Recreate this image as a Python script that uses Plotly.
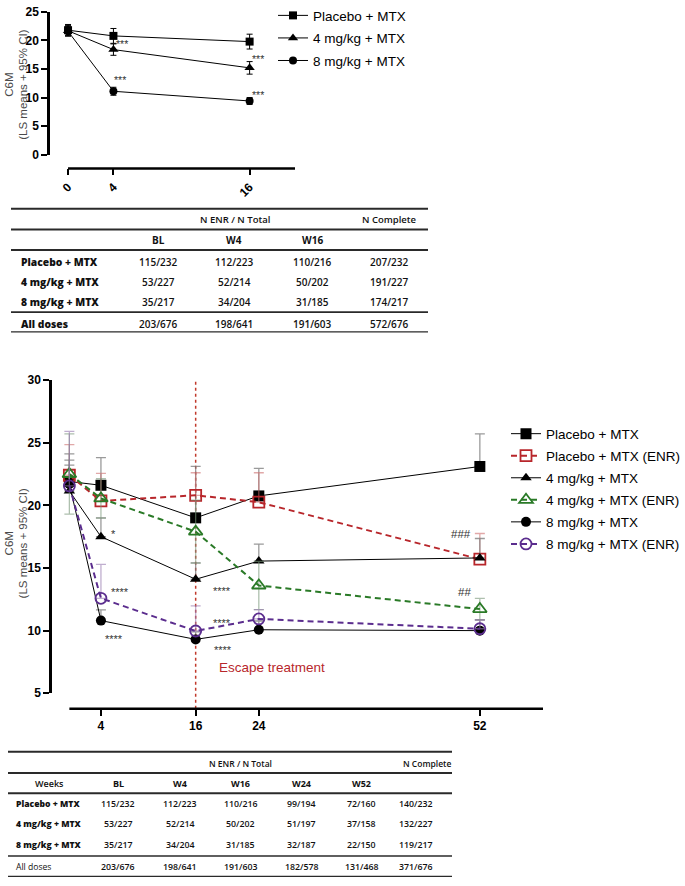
import plotly.graph_objects as go

W, H = 685, 886

def px(x):
    return x / W

def py(y):
    return 1 - y / H

# ---------------- DATA ----------------
# Top chart
top_weeks = [0, 4, 16]
top_tick_text = ["0", "4", "16"]
top_names = ["Placebo + MTX", "4 mg/kg + MTX", "8 mg/kg + MTX"]
top_placebo = [21.8, 20.8, 19.8]
top_placebo_err = [1.0, 1.3, 1.3]
top_4mg = [21.7, 18.4, 15.2]
top_4mg_err = [0.9, 1.0, 1.1]
top_8mg = [21.6, 11.1, 9.4]
top_8mg_err = [0.8, 0.7, 0.6]
top_star_text = ["***", "***", "***", "***"]
top_star_week = [4.75, 4.55, 16.7, 16.7]
top_star_val = [19.95, 13.6, 17.35, 11.0]

# Bottom chart
bot_weeks = [0, 4, 16, 24, 52]
bot_tick_vals = [4, 16, 24, 52]
bot_tick_text = ["4", "16", "24", "52"]
bot_names = ["Placebo + MTX", "Placebo + MTX (ENR)", "4 mg/kg + MTX",
             "4 mg/kg + MTX (ENR)", "8 mg/kg + MTX", "8 mg/kg + MTX (ENR)"]
placebo = [21.9, 21.6, 19.0, 20.75, 23.1]
placebo_err = [2.2, 2.2, 4.1, 2.2, 2.6]
placebo_enr = [22.4, 20.35, 20.8, 20.25, 15.7]
placebo_enr_err = [2.45, 2.2, 1.8, 2.35, 2.05]
mg4 = [21.15, 17.5, 14.1, 15.55, 15.8]
mg4_err = [2.45, 1.5, 1.3, 1.35, 1.55]
mg4_enr = [22.5, 20.55, 17.9, 13.6, 11.72]
mg4_enr_err = [3.2, 1.57, 2.52, 1.93, 0.85]
mg8 = [21.7, 10.8, 9.3, 10.07, 10.0]
mg8_err = [1.5, 0.85, 0.6, 0.7, 0.85]
mg8_enr = [21.55, 12.58, 9.97, 10.93, 10.15]
mg8_enr_err = [4.35, 2.7, 2.0, 0.75, 0.7]
escape_week = 16
escape_text = "Escape treatment"
bot_star_text = ["*", "****", "****", "****", "****", "****", "###", "##"]
bot_star_week = [5.55, 6.4, 5.6, 19.3, 19.3, 19.5, 49.6, 50.1]
bot_star_val = [17.96, 13.35, 9.55, 13.42, 10.86, 8.66, 17.75, 13.1]

# Tables
t1_rows = ["Placebo + MTX", "4 mg/kg + MTX", "8 mg/kg + MTX", "All doses"]
t1_cols = ["BL", "W4", "W16"]
t1_bl = ["115/232", "53/227", "35/217", "203/676"]
t1_w4 = ["112/223", "52/214", "34/204", "198/641"]
t1_w16 = ["110/216", "50/202", "31/185", "191/603"]
t1_complete = ["207/232", "191/227", "174/217", "572/676"]

t2_rows = ["Placebo + MTX", "4 mg/kg + MTX", "8 mg/kg + MTX", "All doses"]
t2_cols = ["BL", "W4", "W16", "W24", "W52"]
t2_bl = ["115/232", "53/227", "35/217", "203/676"]
t2_w4 = ["112/223", "52/214", "34/204", "198/641"]
t2_w16 = ["110/216", "50/202", "31/185", "191/603"]
t2_w24 = ["99/194", "51/197", "32/187", "182/578"]
t2_w52 = ["72/160", "37/158", "22/150", "131/468"]
t2_complete = ["140/232", "132/227", "119/217", "371/676"]
header_mid = "N ENR / N Total"
header_right = "N Complete"
weeks_label = "Weeks"
y_title1 = "C6M"
y_title2 = "(LS means + 95% CI)"

# ---------------- FIGURE ----------------
ARIAL = "Liberation Sans, Arial, sans-serif"
TFONT = "Open Sans, Lato, sans-serif"
fig = go.Figure()

# top chart traces
top_syms = ["square", "triangle-up", "circle"]
for name, vals, errs, sym in zip(top_names, [top_placebo, top_4mg, top_8mg],
                                 [top_placebo_err, top_4mg_err, top_8mg_err], top_syms):
    fig.add_trace(go.Scatter(
        x=top_weeks, y=vals, name=name, mode="lines+markers",
        xaxis="x", yaxis="y", legend="legend", legendgroup="t" + name,
        line=dict(color="black", width=1),
        marker=dict(symbol=sym, size=8 if sym != "triangle-up" else 9, color="black"),
        error_y=dict(type="data", array=errs, visible=True, color="black",
                     thickness=1, width=3),
        cliponaxis=False,
    ))

# bottom chart traces
RED = "#b8262b"
GREEN = "#2a7a27"
PURPLE = "#5b2d8e"
bot_specs = [
    (placebo, placebo_err, "black", "solid", "square", 11, "rgba(120,120,120,0.75)", False),
    (placebo_enr, placebo_enr_err, RED, "6px,4px", "square-open", 11, "rgba(205,110,110,0.6)", False),
    (mg4, mg4_err, "black", "solid", "triangle-up", 10, "rgba(120,120,120,0.75)", False),
    (mg4_enr, mg4_enr_err, GREEN, "6px,4px", "triangle-up-open", 12, "rgba(120,150,120,0.6)", True),
    (mg8, mg8_err, "black", "solid", "circle", 10, "rgba(120,120,120,0.75)", False),
    (mg8_enr, mg8_enr_err, PURPLE, "6px,4px", "circle-open", 11, "rgba(150,120,175,0.6)", False),
]
for name, (vals, errs, col, dash, sym, size, ecol, sym_err) in zip(bot_names, bot_specs):
    open_m = sym.endswith("open")
    fig.add_trace(go.Scatter(
        x=bot_weeks, y=vals, name=name, mode="lines+markers",
        xaxis="x2", yaxis="y2", legend="legend2", legendgroup="b" + name,
        line=dict(color=col, width=1 if dash == "solid" else 2, dash=dash),
        marker=dict(symbol=sym, size=size, color=col,
                    line=dict(width=1.8 if open_m else 0, color=col)),
        error_y=dict(type="data", array=errs, symmetric=sym_err,
                     arrayminus=errs if sym_err else [0] * len(errs),
                     visible=True, color=ecol, thickness=1.3, width=5),
        cliponaxis=False,
    ))

shapes = []
annotations = []

# axis lines (offset x-axes)
shapes.append(dict(type="line", xref="x", yref="paper", x0=0, x1=20,
                   y0=py(164), y1=py(164), line=dict(color="black", width=2.5)))
shapes.append(dict(type="line", xref="x2", yref="paper", x0=0, x1=60,
                   y0=py(713), y1=py(713), line=dict(color="black", width=2.5)))
# escape treatment dotted line
shapes.append(dict(type="line", xref="x2", yref="paper", x0=escape_week, x1=escape_week,
                   y0=py(713), y1=py(379), line=dict(color="#c0392b", width=1.5, dash="dot"),
                   layer="below"))
annotations.append(dict(text=escape_text, xref="paper", yref="paper", x=px(217), y=py(671),
                        xanchor="left", yanchor="middle", showarrow=False,
                        font=dict(family=ARIAL, size=13.5, color="#b8262b")))

# y titles
for (cx, cy, txt_) in [(9, 79, y_title1), (23, 79, y_title2), (9, 545, y_title1), (23, 545, y_title2)]:
    annotations.append(dict(text=txt_, xref="paper", yref="paper", x=px(cx), y=py(cy),
                            textangle=-90, showarrow=False, xanchor="center", yanchor="middle",
                            font=dict(family=ARIAL, size=11.5, color="#4a4a4a")))

# stars
for t, wk, v in zip(top_star_text, top_star_week, top_star_val):
    annotations.append(dict(text=t, xref="x", yref="y", x=wk, y=v, showarrow=False,
                            yshift=-3, font=dict(family=ARIAL, size=10.5, color="#333333")))
for t, wk, v in zip(bot_star_text, bot_star_week, bot_star_val):
    star = t.startswith("*")
    annotations.append(dict(text=t, xref="x2", yref="y2", x=wk, y=v, showarrow=False,
                            yshift=-3 if star else 0,
                            font=dict(family=ARIAL, size=11 if star else 11.5, color="#333333")))

# ---------------- TABLES ----------------
def hline(x0, x1, y, w):
    shapes.append(dict(type="line", xref="paper", yref="paper", x0=px(x0), x1=px(x1),
                       y0=py(y), y1=py(y), line=dict(color="#2a2a2a", width=w)))

def txt(s, x, y, size, weight=600, anchor="center"):
    annotations.append(dict(text=s, xref="paper", yref="paper", x=px(x), y=py(y),
                            xanchor=anchor, yanchor="middle", showarrow=False,
                            font=dict(family=TFONT, size=size, color="#111111", weight=weight)))

# table 1
for y, w in [(205, 2.2), (226, 2), (247, 2), (310, 1.6), (330, 1.2)]:
    hline(11, 428, y, w)
txt(header_mid, 235, 216, 9.5, 600)
txt(header_right, 389, 216, 9.5, 600)
for c, x in zip(t1_cols, [158, 234, 312]):
    txt(c, x, 237, 10, 700)
row_y1 = [259, 279, 300, 322]
for i, r in enumerate(t1_rows):
    txt(r, 19, row_y1[i], 10.3, 800, "left")
    for col, x in zip([t1_bl, t1_w4, t1_w16, t1_complete], [158, 234, 312, 389]):
        txt(col[i], x, row_y1[i], 10, 600)

# table 2
for y, w in [(756.7, 2.2), (778.3, 2), (799, 2), (862.7, 1.6), (883.3, 1.2)]:
    hline(8, 452, y, w)
txt(header_mid, 240.7, 768.3, 8.5, 600)
txt(header_right, 426.7, 768.3, 8.5, 600)
txt(weeks_label, 50, 789.3, 9, 600)
for c, x in zip(t2_cols, [118.3, 180, 240.7, 301.7, 361.7]):
    txt(c, x, 789.3, 9, 700)
row_y2 = [810, 830, 851.7, 873.3]
for i, r in enumerate(t2_rows):
    txt(r, 14, row_y2[i], 8.6, 800 if i < 3 else 500, "left")
    for col, x in zip([t2_bl, t2_w4, t2_w16, t2_w24, t2_w52, t2_complete],
                      [118.3, 180, 240.7, 301.7, 361.7, 415.7]):
        txt(col[i], x, row_y2[i], 8.8, 600)

tickfont = dict(family=ARIAL, size=12, color="black", weight="bold")
fig.update_layout(
    width=W, height=H, autosize=False,
    margin=dict(l=0, r=0, t=0, b=0),
    paper_bgcolor="white", plot_bgcolor="white",
    showlegend=True,
    xaxis=dict(domain=[px(50), px(295)], range=[-1.59, 20], anchor="free", position=py(164),
               showline=False, showgrid=False, zeroline=False, ticks="outside",
               tickvals=top_weeks, ticktext=top_tick_text, ticklen=6, tickwidth=2,
               tickcolor="black", tickangle=-45, tickfont=tickfont, fixedrange=True),
    yaxis=dict(domain=[py(150), py(5)], range=[0, 25], anchor="x",
               showline=True, linewidth=2.5, linecolor="black", showgrid=False, zeroline=False,
               ticks="outside", dtick=5, ticklen=6, tickwidth=2, tickcolor="black",
               tickfont=tickfont, fixedrange=True),
    xaxis2=dict(domain=[px(52), px(543)], range=[-2.2, 60], anchor="free", position=py(713),
                showline=False, showgrid=False, zeroline=False, ticks="outside",
                tickvals=bot_tick_vals, ticktext=bot_tick_text, ticklen=6, tickwidth=2,
                tickcolor="black", tickfont=tickfont, fixedrange=True),
    yaxis2=dict(domain=[py(697.3), py(379)], range=[5, 30], anchor="x2",
                showline=True, linewidth=2.5, linecolor="black", showgrid=False, zeroline=False,
                ticks="outside", dtick=5, ticklen=6, tickwidth=2, tickcolor="black",
                tickfont=tickfont, fixedrange=True),
    legend=dict(x=px(273), y=py(-7), xanchor="left", yanchor="top",
                font=dict(family=ARIAL, size=13.5, color="black"),
                bgcolor="rgba(0,0,0,0)", tracegroupgap=2),
    legend2=dict(x=1, y=py(418), xanchor="right", yanchor="top",
                 font=dict(family=ARIAL, size=13.5, color="black"),
                 bgcolor="rgba(0,0,0,0)", tracegroupgap=1.5),
    shapes=shapes,
    annotations=annotations,
)

fig.write_html("out.html", config={"displayModeBar": False},
               post_script="document.body.style.margin='0px';")
